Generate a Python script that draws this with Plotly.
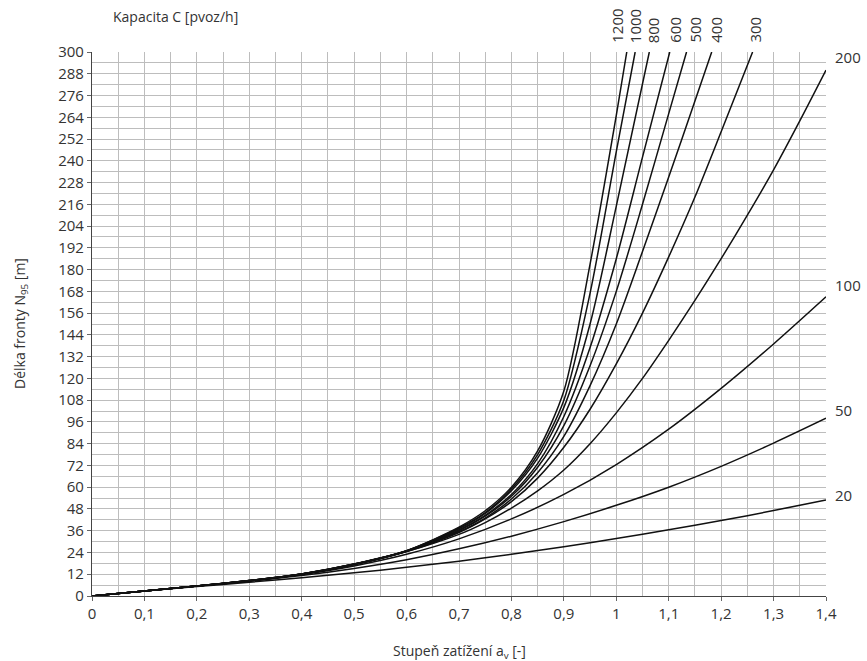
import plotly.graph_objects as go

# ---- data ----
x_c20 = [0, 0.1, 0.2, 0.3, 0.4, 0.5, 0.6, 0.7, 0.8, 0.9, 1.0, 1.1, 1.2, 1.3, 1.4]
y_c20 = [0, 2.7, 5.2, 7.6, 10.1, 12.8, 15.8, 19.2, 23, 27.2, 31.7, 36.5, 41.6, 47.1, 53]

x_c50 = [0, 0.1, 0.2, 0.3, 0.4, 0.5, 0.6, 0.7, 0.8, 0.9, 1.0, 1.1, 1.2, 1.3, 1.4]
y_c50 = [0, 2.8, 5.5, 8.2, 11.3, 15.2, 20, 26, 33, 41, 50, 60, 71.5, 84.3, 98]

x_c100 = [0, 0.1, 0.2, 0.3, 0.4, 0.5, 0.6, 0.7, 0.8, 0.9, 1.0, 1.1, 1.2, 1.3, 1.4]
y_c100 = [0, 2.8, 5.5, 8.3, 11.8, 16.6, 23, 31.5, 42.5, 56, 72.5, 92, 114.5, 139, 165]

x_c200 = [0, 0.1, 0.2, 0.3, 0.4, 0.5, 0.6, 0.7, 0.75, 0.8, 0.85, 0.9, 0.95, 1.0,
          1.05, 1.1, 1.15, 1.2, 1.25, 1.3, 1.35, 1.4]
y_c200 = [0, 2.8, 5.5, 8.3, 12, 17.3, 24.5, 34, 40.5, 48.5, 58, 69.5, 84, 101,
          120, 141, 163, 186, 210, 235, 262, 290]

x_c300 = [0, 0.1, 0.2, 0.3, 0.4, 0.5, 0.6, 0.7, 0.75, 0.8, 0.85, 0.9, 0.95, 1.0,
          1.05, 1.1, 1.15, 1.2, 1.26]
y_c300 = [0, 2.8, 5.5, 8.4, 12, 17.3, 24.5, 35, 42.5, 52, 65, 82, 103, 128,
          156, 187, 220, 256, 300]

x_c400 = [0, 0.1, 0.2, 0.3, 0.4, 0.5, 0.6, 0.7, 0.75, 0.8, 0.85, 0.9, 0.95, 1.0,
          1.05, 1.1, 1.15, 1.182]
y_c400 = [0, 2.8, 5.5, 8.4, 12.1, 17.4, 24.7, 35.5, 43, 53.5, 68, 88, 116, 150,
          190, 231, 273, 300]

x_c500 = [0, 0.1, 0.2, 0.3, 0.4, 0.5, 0.6, 0.7, 0.75, 0.8, 0.85, 0.9, 0.95, 1.0,
          1.05, 1.1, 1.134]
y_c500 = [0, 2.8, 5.5, 8.5, 12.1, 17.5, 24.8, 36, 44, 55, 71, 94, 127, 168,
          216, 266, 300]

x_c600 = [0, 0.1, 0.2, 0.3, 0.4, 0.5, 0.6, 0.7, 0.75, 0.8, 0.85, 0.9, 0.95, 1.0,
          1.05, 1.102]
y_c600 = [0, 2.8, 5.5, 8.5, 12.1, 17.5, 24.8, 36.5, 44.5, 56, 73, 99, 137, 186,
          242, 300]

x_c800 = [0, 0.1, 0.2, 0.3, 0.4, 0.5, 0.6, 0.7, 0.75, 0.8, 0.85, 0.9, 0.95, 1.0,
          1.063]
y_c800 = [0, 2.8, 5.5, 8.5, 12.2, 17.6, 24.9, 37, 45.5, 58, 76, 104, 150, 215,
          300]

x_c1000 = [0, 0.1, 0.2, 0.3, 0.4, 0.5, 0.6, 0.7, 0.75, 0.8, 0.85, 0.9, 0.95, 1.0,
           1.036]
y_c1000 = [0, 2.8, 5.5, 8.5, 12.2, 17.6, 25, 37.5, 46, 59, 78, 108, 167, 245,
           300]

x_c1200 = [0, 0.1, 0.2, 0.3, 0.4, 0.5, 0.6, 0.7, 0.75, 0.8, 0.85, 0.9, 0.95, 1.0,
           1.02]
y_c1200 = [0, 2.8, 5.5, 8.5, 12.2, 17.7, 25, 38, 47, 60, 80, 113, 183, 265,
           300]

x_tickvals = [0, 0.1, 0.2, 0.3, 0.4, 0.5, 0.6, 0.7, 0.8, 0.9, 1.0, 1.1, 1.2, 1.3, 1.4]
x_ticktext = ["0", "0,1", "0,2", "0,3", "0,4", "0,5", "0,6", "0,7", "0,8", "0,9",
              "1", "1,1", "1,2", "1,3", "1,4"]
y_tickvals = list(range(0, 301, 12))

top_caps = ["1200", "1000", "800", "600", "500", "400", "300"]
right_caps = ["200", "100", "50", "20"]

series = [
    ("20", x_c20, y_c20), ("50", x_c50, y_c50), ("100", x_c100, y_c100),
    ("200", x_c200, y_c200), ("300", x_c300, y_c300), ("400", x_c400, y_c400),
    ("500", x_c500, y_c500), ("600", x_c600, y_c600), ("800", x_c800, y_c800),
    ("1000", x_c1000, y_c1000), ("1200", x_c1200, y_c1200),
]
ends = {name: (xs[-1], ys[-1]) for name, xs, ys in series}

FONT = "Open Sans"
TXT = "#333333"
GRID = "#bdbdbd"

fig = go.Figure()
for name, xs, ys in series:
    fig.add_trace(go.Scatter(x=xs, y=ys, mode="lines", name=name,
                             line=dict(color="#111111", width=1.5,
                                       shape="spline", smoothing=0.8),
                             showlegend=False, hoverinfo="skip"))

annotations = []
top_shift = {"1200": -10, "1000": 0, "800": 4, "600": 5, "500": 8, "400": 4, "300": 2}
for cap in top_caps:
    ex, ey = ends[cap]
    annotations.append(dict(x=ex, y=1, xref="x", yref="paper", text=cap,
                            showarrow=False, textangle=-90, xanchor="center",
                            yanchor="bottom", yshift=7, xshift=top_shift[cap],
                            font=dict(family=FONT, size=15, color=TXT)))
right_shift = {"200": 13, "100": 12, "50": 8, "20": 5}
for cap in right_caps:
    ex, ey = ends[cap]
    annotations.append(dict(x=ex, y=ey, xref="x", yref="y", text=cap,
                            showarrow=False, xanchor="left", yanchor="middle",
                            xshift=7, yshift=right_shift[cap],
                            font=dict(family=FONT, size=15, color=TXT)))
annotations.append(dict(x=0, y=1, xref="paper", yref="paper",
                        text="Kapacita C [pvoz/h]", showarrow=False,
                        xanchor="left", yanchor="bottom", xshift=19, yshift=24,
                        font=dict(family=FONT, size=14, color=TXT)))
# axis titles
annotations.append(dict(x=0.5, y=0, xref="paper", yref="paper",
                        text="Stupeň zatížení a<sub>v</sub> [-]", showarrow=False,
                        xanchor="center", yanchor="middle", yshift=-55,
                        font=dict(family=FONT, size=14, color=TXT)))
annotations.append(dict(x=0, y=0.5, xref="paper", yref="paper",
                        text="Délka fronty N<sub>95</sub> [m]", showarrow=False,
                        textangle=-90, xanchor="center", yanchor="middle", xshift=-72,
                        font=dict(family=FONT, size=14, color=TXT)))

fig.update_layout(
    width=867, height=661,
    margin=dict(l=92, r=41, t=52, b=65),
    paper_bgcolor="white", plot_bgcolor="white",
    font=dict(family=FONT, size=15, color=TXT),
    annotations=annotations,
    xaxis=dict(range=[0, 1.4], tickvals=x_tickvals, ticktext=x_ticktext,
               automargin=False,
               showgrid=True, gridcolor=GRID, gridwidth=1,
               minor=dict(dtick=0.05, tick0=0, showgrid=True, gridcolor=GRID, gridwidth=1),
               showline=True, linecolor="#444", linewidth=1.2,
               ticks="outside", ticklen=4, tickcolor="#666",
               zeroline=False, tickfont=dict(family=FONT, size=15, color=TXT)),
    yaxis=dict(range=[0, 300], tickvals=y_tickvals,
               automargin=False,
               showgrid=True, gridcolor=GRID, gridwidth=1,
               minor=dict(dtick=6, tick0=0, showgrid=True, gridcolor=GRID, gridwidth=1),
               showline=True, linecolor="#444", linewidth=1.2,
               ticks="outside", ticklen=4, tickcolor="#666",
               zeroline=False, tickfont=dict(family=FONT, size=15, color=TXT)),
)

fig.write_html("out.html")
